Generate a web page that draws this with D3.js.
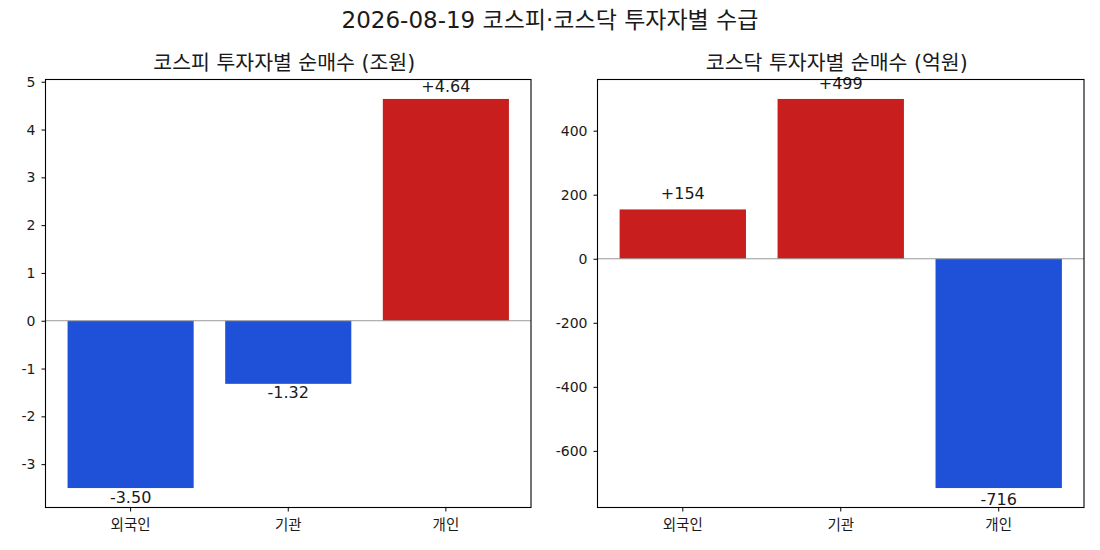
<!DOCTYPE html>
<html>
<head>
<meta charset="utf-8">
<script src="https://cdn.jsdelivr.net/npm/d3@7"></script>
<style>
  body { margin: 0; background: #fff; }
  text { font-family: "DejaVu Sans", "Noto Sans CJK KR", sans-serif; fill: #1a1a1a; }
</style>
</head>
<body>
<svg id="chart"></svg>
<script>
const figTitle = "2026-08-19 코스피·코스닥 투자자별 수급";
const investors = ["외국인", "기관", "개인"];
const kospiTitle = "코스피 투자자별 순매수 (조원)";
const kospiValues = [-3.50, -1.32, 4.64];
const kosdaqTitle = "코스닥 투자자별 순매수 (억원)";
const kosdaqValues = [154, 499, -716];

const width = 1100;
const height = 550;
const red = "#c81e1e";
const blue = "#1e50d8";

const svg = d3.select("#chart")
    .attr("width", width)
    .attr("height", height);

svg.append("text")
    .attr("x", width / 2)
    .attr("y", 28)
    .attr("text-anchor", "middle")
    .attr("font-size", "23px")
    .text(figTitle);

// one panel = one matplotlib-like axes
function drawPanel(opts) {
    const { left, right, top, bottom, title, values, tickCount, fmt, offUp, offDown } = opts;

    const x = d3.scaleBand()
        .domain(investors)
        .range([left, right])
        .paddingInner(0.2)
        .paddingOuter(0.14);

    const lo = Math.min(0, d3.min(values));
    const hi = Math.max(0, d3.max(values));
    const pad = (hi - lo) * 0.05;
    const y = d3.scaleLinear()
        .domain([lo - pad, hi + pad])
        .range([bottom, top]);

    const g = svg.append("g");

    g.append("text")
        .attr("x", (left + right) / 2 - 4)
        .attr("y", top - 10)
        .attr("text-anchor", "middle")
        .attr("font-size", "20.5px")
        .text(title);

    g.selectAll("rect.bar")
        .data(values)
        .enter()
        .append("rect")
        .attr("class", "bar")
        .attr("x", (d, i) => x(investors[i]))
        .attr("width", x.bandwidth())
        .attr("y", d => y(Math.max(0, d)))
        .attr("height", d => Math.abs(y(d) - y(0)))
        .attr("fill", d => d >= 0 ? red : blue);

    g.append("line")
        .attr("x1", left)
        .attr("x2", right)
        .attr("y1", y(0))
        .attr("y2", y(0))
        .attr("stroke", "#999")
        .attr("stroke-width", 1);

    g.selectAll("text.val")
        .data(values)
        .enter()
        .append("text")
        .attr("class", "val")
        .attr("x", (d, i) => x(investors[i]) + x.bandwidth() / 2)
        .attr("y", d => d >= 0 ? y(d) - offUp : y(d) + offDown)
        .attr("text-anchor", "middle")
        .attr("font-size", "16px")
        .text(d => (d >= 0 ? "+" : "-") + fmt(Math.abs(d)));

    const yAxis = d3.axisLeft(y)
        .ticks(tickCount)
        .tickSize(4)
        .tickPadding(6)
        .tickFormat(d => String(d));
    g.append("g")
        .attr("transform", `translate(${left},0)`)
        .call(yAxis)
        .call(a => a.select(".domain").remove())
        .call(a => a.selectAll("text").attr("font-size", "14px").attr("font-family", null).style("fill", "#1a1a1a"));

    const xAxis = d3.axisBottom(x)
        .tickSize(4)
        .tickPadding(8);
    g.append("g")
        .attr("transform", `translate(0,${bottom})`)
        .call(xAxis)
        .call(a => a.select(".domain").remove())
        .call(a => a.selectAll("text").attr("font-size", "14.5px").attr("font-family", null).style("fill", "#1a1a1a"));

    g.append("rect")
        .attr("x", left)
        .attr("y", top)
        .attr("width", right - left)
        .attr("height", bottom - top)
        .attr("fill", "none")
        .attr("stroke", "#000")
        .attr("stroke-width", 1.1);
}

drawPanel({
    left: 45.5, right: 531, top: 79.5, bottom: 507.5,
    title: kospiTitle, values: kospiValues, tickCount: 10,
    fmt: d3.format(".2f"), offUp: 7, offDown: 14.5
});

drawPanel({
    left: 597.5, right: 1084, top: 79.5, bottom: 507.5,
    title: kosdaqTitle, values: kosdaqValues, tickCount: 6,
    fmt: d3.format("d"), offUp: 10, offDown: 17
});
</script>
</body>
</html>
